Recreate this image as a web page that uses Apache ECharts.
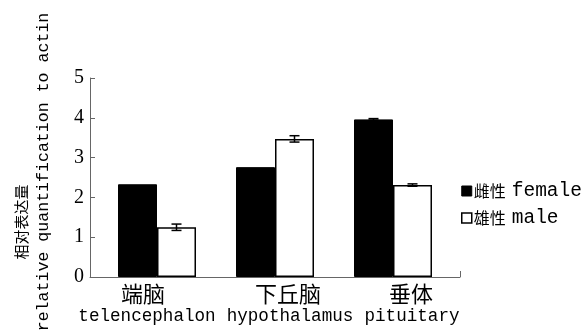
<!DOCTYPE html>
<html><head><meta charset="utf-8">
<script src="https://cdn.jsdelivr.net/npm/echarts@6/dist/echarts.min.js"></script>
<style>html,body{margin:0;padding:0;background:#fff}#c{width:583px;height:331px}</style>
</head><body><div id="c"></div>
<script>
const enCats = ['telencephalon', 'hypothalamus', 'pituitary'];
const cnCats = ['端脑', '下丘脑', '垂体'];
const female = [2.33, 2.76, 3.96];
const femaleErr = [0, 0, 0.02];
const male = [1.25, 3.47, 2.31];
const maleErr = [0.08, 0.08, 0.03];
const yTicks = [0, 1, 2, 3, 4, 5];
const seriesNames = ['雌性 female', '雄性 male'];

const chart = echarts.init(document.getElementById('c'));
const MONO = '"Liberation Mono", monospace';
const CJK = '"Noto Sans CJK SC", sans-serif';
const SERIF = '"Liberation Serif", serif';

// horizontal label nudges (style only)
const labelShift = [-14, 13, 18];
const enShift = [-10, 15, 19];
const rich = {};
labelShift.forEach(function (d, i) {
  const pad = d < 0 ? [0, -2 * d, 0, 0] : [0, 0, 0, 2 * d];
  const e = enShift[i];
  const padE = e < 0 ? [0, -2 * e, 0, 0] : [0, 0, 0, 2 * e];
  rich['cn' + i] = { fontFamily: CJK, fontSize: 22, lineHeight: 25, color: '#000', padding: pad };
  rich['en' + i] = { fontFamily: MONO, fontSize: 17.6, lineHeight: 21, color: '#000', padding: padE };
});

function errSeries(vals, errs, offsetIdx) {
  return {
    type: 'custom', xAxisIndex: 0, yAxisIndex: 0, z: 5,
    data: vals.map((v, i) => [i, v, errs[i]]),
    renderItem: function (params, api) {
      const i = api.value(0), v = api.value(1), e = api.value(2);
      if (!e) return null;
      const bw = 39;
      const cx = api.coord([i, v])[0] + (offsetIdx === 0 ? -bw / 2 : bw / 2);
      const top = api.coord([i, v + e])[1];
      const bot = api.coord([i, v - e])[1];
      const cap = 5;
      const st = { stroke: '#000', lineWidth: 1.5 };
      return { type: 'group', children: [
        { type: 'line', shape: { x1: cx, y1: top, x2: cx, y2: bot }, style: st },
        { type: 'line', shape: { x1: cx - cap, y1: top, x2: cx + cap, y2: top }, style: st },
        { type: 'line', shape: { x1: cx - cap, y1: bot, x2: cx + cap, y2: bot }, style: st }
      ]};
    }
  };
}

chart.setOption({
  animation: false,
  backgroundColor: '#fff',
  grid: [
    { left: 98, right: 131, top: 78, bottom: 54 },
    { left: 90, right: 123, top: 78, bottom: 54 }
  ],
  xAxis: [
    {
      type: 'category', gridIndex: 0, data: enCats,
      axisLine: { show: false }, axisTick: { show: false },
      axisLabel: {
        margin: 4, interval: 0,
        formatter: function (v, i) { return '{cn' + i + '|' + cnCats[i] + '}\n{en' + i + '|' + v + '}'; },
        rich: rich
      }
    },
    {
      type: 'value', gridIndex: 1, min: 0, max: 1, interval: 1,
      axisLine: { show: true, lineStyle: { color: '#666', width: 1 } },
      axisTick: { show: true, inside: true, length: 6, lineStyle: { color: '#666' } },
      axisLabel: { show: false }, splitLine: { show: false }
    }
  ],
  yAxis: [
    {
      type: 'value', gridIndex: 0, min: yTicks[0], max: yTicks[yTicks.length - 1], interval: 1,
      offset: 8,
      axisLine: { show: true, lineStyle: { color: '#666', width: 1 } },
      axisTick: { show: true, inside: true, length: 5, lineStyle: { color: '#666' } },
      axisLabel: { fontFamily: SERIF, fontSize: 20, color: '#000', margin: 6 },
      splitLine: { show: false }
    },
    { type: 'value', gridIndex: 1, show: false }
  ],
  legend: {
    orient: 'vertical', left: 456, top: 176, itemWidth: 10, itemHeight: 10, itemGap: 7,
    icon: 'rect',
    data: [
      { name: seriesNames[0], itemStyle: { color: '#000', borderColor: '#000', borderWidth: 1 } },
      { name: seriesNames[1], itemStyle: { color: '#fff', borderColor: '#000', borderWidth: 1.5 } }
    ],
    formatter: function (n) { const p = n.split(' '); return '{cn|' + p[0] + '}{en|' + p[1] + '}'; },
    textStyle: {
      padding: [0, 0, 0, -3],
      rich: {
        cn: { fontFamily: CJK, fontSize: 16, color: '#000', padding: [0, 6, 0, 0] },
        en: { fontFamily: MONO, fontSize: 19.5, color: '#000' }
      }
    }
  },
  graphic: [
    { type: 'text', x: 21, y: 222, rotation: Math.PI / 2,
      style: { text: '相对表达量', font: '15px ' + CJK, fill: '#000', textAlign: 'center', textVerticalAlign: 'middle' } },
    { type: 'text', x: 44, y: 172, rotation: Math.PI / 2,
      style: { text: 'relative quantification to actin', font: '16.6px ' + MONO, fill: '#000', textAlign: 'center', textVerticalAlign: 'middle' } }
  ],
  series: [
    { name: seriesNames[0], type: 'bar', data: female, barWidth: 39, barGap: '0%',
      itemStyle: { color: '#000', borderColor: '#000', borderWidth: 1 } },
    { name: seriesNames[1], type: 'bar', data: male, barWidth: 39, barGap: '0%',
      itemStyle: { color: '#fff', borderColor: '#000', borderWidth: 1.5 } },
    errSeries(female, femaleErr, 0),
    errSeries(male, maleErr, 1)
  ]
});
</script></body></html>
